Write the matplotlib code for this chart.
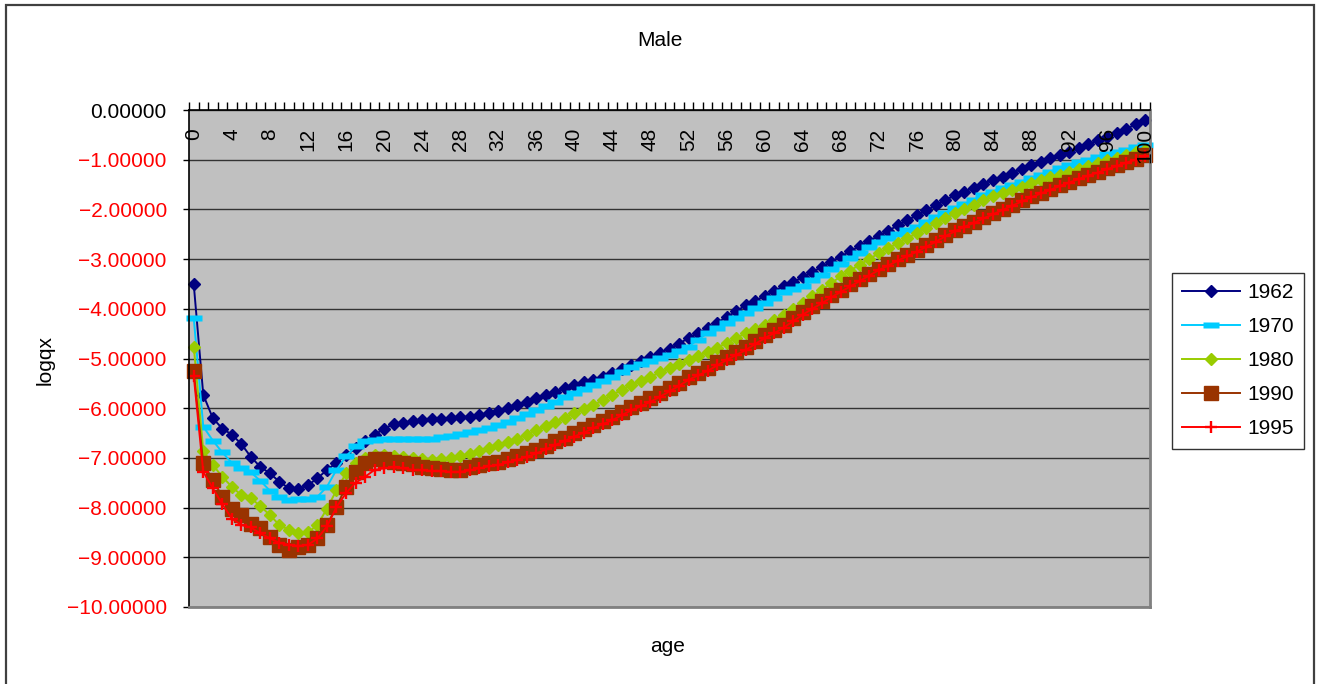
import numpy as np
import matplotlib
matplotlib.use("Agg")
import matplotlib.pyplot as plt
from matplotlib.patches import Rectangle

plt.rcParams["font.family"] = ["Liberation Sans", "DejaVu Sans"]

ages = list(range(0, 101))

y1962 = [
    -3.51, -5.73, -6.20, -6.41, -6.53, -6.72, -6.98, -7.18, -7.31, -7.48,
    -7.61, -7.62, -7.55, -7.41, -7.24, -7.10, -6.94, -6.81, -6.67, -6.54,
    -6.41, -6.32, -6.29, -6.26, -6.24, -6.22, -6.21, -6.19, -6.18, -6.17,
    -6.14, -6.10, -6.05, -6.00, -5.94, -5.87, -5.80, -5.74, -5.67, -5.60,
    -5.54, -5.48, -5.43, -5.37, -5.30, -5.22, -5.13, -5.05, -4.96, -4.88,
    -4.80, -4.70, -4.59, -4.49, -4.39, -4.28, -4.17, -4.05, -3.93, -3.84,
    -3.74, -3.64, -3.55, -3.46, -3.37, -3.26, -3.16, -3.05, -2.95, -2.84,
    -2.74, -2.63, -2.53, -2.43, -2.32, -2.22, -2.12, -2.02, -1.92, -1.81,
    -1.72, -1.64, -1.56, -1.48, -1.41, -1.34, -1.26, -1.19, -1.11, -1.04,
    -0.97, -0.90, -0.84, -0.76, -0.69, -0.61, -0.54, -0.46, -0.38, -0.29,
    -0.20,
]

y1970 = [
    -4.19, -6.37, -6.65, -6.89, -7.10, -7.21, -7.29, -7.46, -7.66, -7.78,
    -7.85, -7.82, -7.82, -7.78, -7.58, -7.24, -6.97, -6.77, -6.65, -6.63,
    -6.61, -6.61, -6.61, -6.61, -6.61, -6.61, -6.58, -6.55, -6.52, -6.48,
    -6.44, -6.39, -6.34, -6.27, -6.20, -6.12, -6.04, -5.95, -5.87, -5.78,
    -5.70, -5.61, -5.53, -5.45, -5.37, -5.27, -5.17, -5.12, -5.06, -4.99,
    -4.92, -4.84, -4.76, -4.62, -4.49, -4.39, -4.29, -4.19, -4.09, -3.99,
    -3.89, -3.78, -3.67, -3.61, -3.55, -3.43, -3.32, -3.20, -3.09, -2.98,
    -2.87, -2.76, -2.65, -2.57, -2.50, -2.42, -2.35, -2.26, -2.16, -2.07,
    -1.98, -1.90, -1.81, -1.72, -1.64, -1.57, -1.50, -1.44, -1.37, -1.30,
    -1.24, -1.17, -1.11, -1.05, -1.00, -0.94, -0.89, -0.84, -0.80, -0.75,
    -0.70,
]

y1980 = [
    -4.76, -6.86, -7.14, -7.38, -7.58, -7.75, -7.81, -7.97, -8.15, -8.35,
    -8.45, -8.52, -8.50, -8.35, -8.02, -7.65, -7.31, -7.11, -7.01, -6.94,
    -6.94, -6.97, -6.98, -7.01, -7.02, -7.04, -7.03, -7.00, -6.97, -6.92,
    -6.87, -6.81, -6.74, -6.68, -6.61, -6.53, -6.44, -6.36, -6.27, -6.19,
    -6.10, -6.02, -5.94, -5.84, -5.73, -5.63, -5.53, -5.45, -5.37, -5.28,
    -5.20, -5.12, -5.03, -4.95, -4.86, -4.78, -4.69, -4.59, -4.49, -4.41,
    -4.33, -4.22, -4.12, -4.01, -3.89, -3.75, -3.62, -3.48, -3.35, -3.23,
    -3.11, -3.00, -2.88, -2.78, -2.68, -2.58, -2.48, -2.38, -2.28, -2.18,
    -2.08, -1.99, -1.91, -1.82, -1.74, -1.67, -1.60, -1.54, -1.47, -1.41,
    -1.35, -1.30, -1.24, -1.18, -1.12, -1.07, -1.01, -0.96, -0.90, -0.85,
    -0.80,
]

y1990 = [
    -5.26, -7.11, -7.44, -7.78, -8.02, -8.15, -8.32, -8.42, -8.59, -8.75,
    -8.85, -8.79, -8.75, -8.62, -8.35, -7.98, -7.58, -7.28, -7.11, -7.03,
    -7.03, -7.08, -7.10, -7.12, -7.18, -7.21, -7.23, -7.24, -7.24, -7.19,
    -7.14, -7.11, -7.08, -7.03, -6.97, -6.91, -6.84, -6.76, -6.67, -6.59,
    -6.50, -6.42, -6.34, -6.26, -6.17, -6.07, -5.97, -5.89, -5.80, -5.70,
    -5.60, -5.49, -5.37, -5.29, -5.20, -5.08, -4.96, -4.86, -4.76, -4.64,
    -4.52, -4.42, -4.32, -4.19, -4.06, -3.95, -3.84, -3.73, -3.62, -3.51,
    -3.40, -3.30, -3.19, -3.10, -3.00, -2.91, -2.82, -2.72, -2.62, -2.51,
    -2.41, -2.33, -2.25, -2.16, -2.08, -1.99, -1.91, -1.82, -1.74, -1.66,
    -1.59, -1.51, -1.44, -1.37, -1.30, -1.24, -1.17, -1.11, -1.04, -0.98,
    -0.91,
]

y1995 = [
    -5.35, -7.28, -7.61, -7.93, -8.22, -8.35, -8.40, -8.52, -8.62, -8.71,
    -8.75, -8.77, -8.75, -8.62, -8.38, -7.99, -7.71, -7.50, -7.38, -7.24,
    -7.21, -7.19, -7.21, -7.24, -7.25, -7.26, -7.27, -7.28, -7.28, -7.25,
    -7.21, -7.17, -7.14, -7.09, -7.04, -6.98, -6.91, -6.83, -6.74, -6.66,
    -6.57, -6.49, -6.40, -6.32, -6.24, -6.14, -6.04, -5.96, -5.87, -5.77,
    -5.66, -5.55, -5.43, -5.34, -5.25, -5.14, -5.03, -4.93, -4.83, -4.71,
    -4.59, -4.49, -4.38, -4.25, -4.12, -4.00, -3.89, -3.77, -3.66, -3.55,
    -3.44, -3.33, -3.22, -3.13, -3.03, -2.94, -2.85, -2.75, -2.65, -2.54,
    -2.44, -2.35, -2.27, -2.18, -2.10, -2.01, -1.93, -1.84, -1.76, -1.68,
    -1.61, -1.53, -1.46, -1.39, -1.32, -1.26, -1.19, -1.13, -1.06, -1.00,
    -0.93,
]

years = ["1962", "1970", "1980", "1990", "1995"]
y_ticks = list(range(-10, 1))

W, H = 1321, 684
fig = plt.figure(figsize=(W / 100, H / 100), dpi=100)

# plot area in pixels: x 189..1150, y 110..607
ax = fig.add_axes([189 / W, 1 - 607 / H, (1150 - 189) / W, (607 - 110) / H])
ax.set_facecolor("#C0C0C0")

FS = 15

# horizontal bar marker for 1970
bar = [(-1.5, -0.5), (1.5, -0.5), (1.5, 0.5), (-1.5, 0.5), (-1.5, -0.5)]

styles = [
    dict(color="#000080", marker="D", ms=6.6, mec="#000080", mfc="#000080"),
    dict(color="#00CCFF", marker=bar, ms=11.5, mec="none", mfc="#00CCFF"),
    dict(color="#99CC00", marker="D", ms=6.6, mec="#99CC00", mfc="#99CC00"),
    dict(color="#993300", marker="s", ms=9.5, mec="#993300", mfc="#993300"),
    dict(color="#FF0000", marker="+", ms=9, mew=1.7),
]

series = [y1962, y1970, y1980, y1990, y1995]
for yr, vals, st in zip(years, series, styles):
    ax.plot(ages, vals, lw=1.4, label=yr, clip_on=False, **st)

ax.set_xlim(-0.5, 100.5)
ax.set_ylim(-10, 0)

# y axis, negative numbers shown in red
ax.set_yticks(y_ticks)
ax.set_yticklabels(
    ["0.00000" if v == 0 else "\u2212%.5f" % abs(v) for v in y_ticks],
    fontsize=FS,
)
ax.tick_params(axis="y", direction="out", length=4, width=1, pad=12,
               color="black")
for lbl, v in zip(ax.get_yticklabels(), y_ticks):
    lbl.set_color("black" if v == 0 else "#FF0000")
ax.yaxis.grid(True, color="#333333", lw=1.0)
ax.set_axisbelow(True)

# x axis crosses at 0 (top of plot), ticks between categories
ax.xaxis.tick_top()
ax.set_xticks([])
ax.set_xticks(np.arange(-0.5, 101, 1), minor=True)
ax.tick_params(axis="x", which="minor", direction="out", length=6, width=1,
               top=True, bottom=False)
for a in ages[::4]:
    ax.annotate(str(a), xy=(a, 1), xycoords=("data", "axes fraction"),
                xytext=(0, -13), textcoords="offset points",
                rotation=90, ha="center", va="top", fontsize=FS)

ax.spines["top"].set_color("black")
ax.spines["left"].set_color("black")
ax.spines["top"].set_linewidth(1.2)
ax.spines["left"].set_linewidth(1.2)
for s in ("right", "bottom"):
    ax.spines[s].set_color("#808080")
    ax.spines[s].set_linewidth(2)

fig.text(660 / W, 1 - 40 / H, "Male", ha="center", va="center", fontsize=FS)
fig.text(668 / W, 1 - 647 / H, "age", ha="center", va="center", fontsize=FS)
fig.text(45 / W, 1 - 360 / H, "logqx", ha="center", va="center",
         rotation=90, fontsize=FS)

leg = fig.legend(loc="upper left", bbox_to_anchor=(1172 / W, 1 - 273 / H),
                 borderaxespad=0, fontsize=FS, frameon=True, fancybox=False,
                 edgecolor="black", handlelength=2.75, labelspacing=0.72,
                 handletextpad=0.35, borderpad=0.5)
leg.get_frame().set_linewidth(1.0)

# chart area border
fig.add_artist(Rectangle((6 / W, -0.05), (1314 - 6) / W, 1 - 5 / H + 0.05,
                         transform=fig.transFigure, fill=False,
                         edgecolor="#404040", lw=1.6))

fig.savefig("out.png", dpi=100)
